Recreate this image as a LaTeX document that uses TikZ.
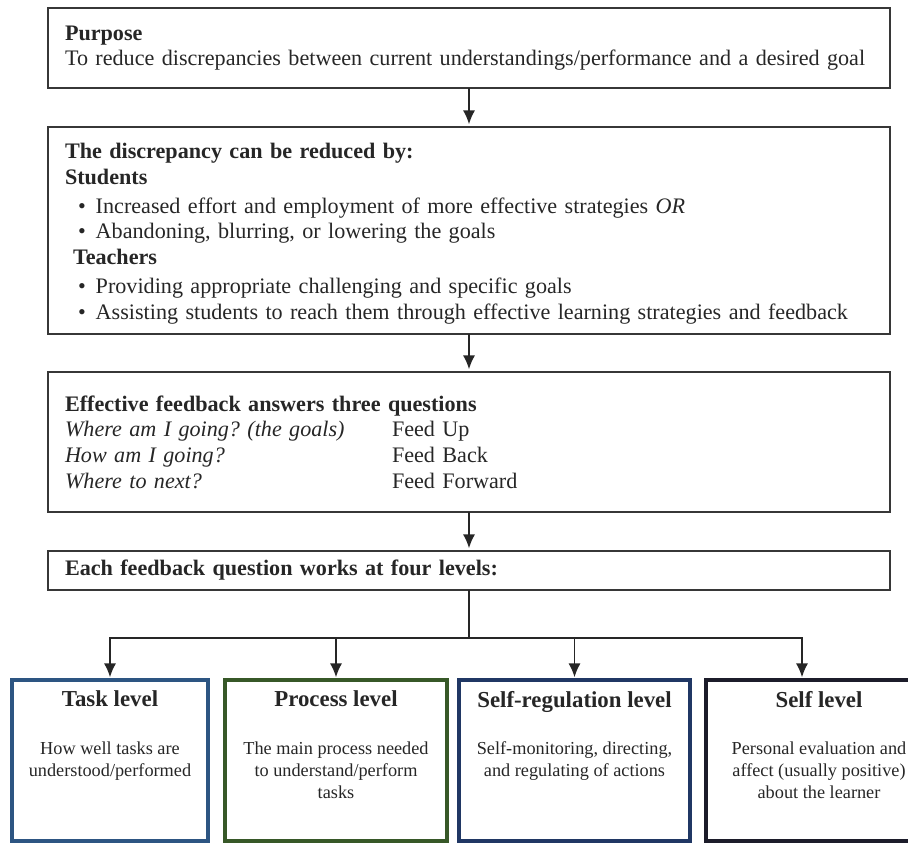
\documentclass[tikz,border=0pt]{standalone}
\usepackage{fontspec}
\setmainfont{Liberation Serif}
\usepackage{xcolor}
\usepackage{tikz}
\usetikzlibrary{shapes.geometric, arrows.meta, positioning}

\definecolor{boxgray}{RGB}{55,55,55}
\definecolor{taskblue}{RGB}{45,85,130}
\definecolor{procgreen}{RGB}{55,88,40}
\definecolor{regnavy}{RGB}{32,55,100}
\definecolor{selfdark}{RGB}{28,28,42}
\frenchspacing

\begin{document}
\begin{tikzpicture}[
    node distance=0.78cm,
    mainbox/.style={rectangle, draw=boxgray, line width=1.3pt, outer sep=0pt, text width=16.16cm, inner xsep=0.34cm, inner ysep=0pt, align=left, font=\fontsize{12.6}{14.6}\selectfont, text=black!85},
    levelbox/.style={rectangle, draw, inner sep=0pt, outer sep=0pt, minimum height=3.22cm, text=black!85},
    arrow/.style={line width=1.1pt, draw=black!85, -{Latex[length=8pt,width=7pt]}, shorten >=1.5pt},
    line/.style={line width=1.1pt, draw=black!85}
]
    \useasboundingbox (0,0) rectangle (18.16,-16.86);
    \clip (0,0) rectangle (18.16,-16.86);

    % Nodes
    \node [mainbox, anchor=north west, minimum height=1.6cm] (purpose) at (0.96,-0.16)
        {\textbf{Purpose}\\
         To reduce discrepancies between current understandings/performance and a desired goal};
    \node [mainbox, below=of purpose, minimum height=4.14cm] (reduce)
        {\textbf{The discrepancy can be reduced by:}\\
         \textbf{Students}\\[2pt]
         \hspace*{0.26cm}\textbullet\hspace{0.2cm}Increased effort and employment of more effective strategies \textit{OR}\\
         \hspace*{0.26cm}\textbullet\hspace{0.2cm}Abandoning, blurring, or lowering the goals\\
         \hspace*{0.16cm}\textbf{Teachers}\\[2pt]
         \hspace*{0.26cm}\textbullet\hspace{0.2cm}Providing appropriate challenging and specific goals\\
         \hspace*{0.26cm}\textbullet\hspace{0.2cm}Assisting students to reach them through effective learning strategies and feedback\par
         \vspace*{-3.5pt}};
    \node [mainbox, below=0.76cm of reduce, minimum height=2.8cm] (questions)
        {\textbf{Effective feedback answers three questions}\\
         \makebox[6.54cm][l]{\textit{Where am I going? (the goals)}}Feed Up\\
         \makebox[6.54cm][l]{\textit{How am I going?}}Feed Back\\
         \makebox[6.54cm][l]{\textit{Where to next?}}Feed Forward};
    \node [mainbox, below=of questions, minimum height=0.78cm] (levels)
        {\textbf{Each feedback question works at four levels:}};

    % Level boxes
    \node [levelbox, draw=taskblue, line width=2.2pt, minimum width=3.92cm, anchor=north west] (task)
        at ([xshift=-0.72cm, yshift=-1.8cm]levels.south west)
        {\parbox[t][2.78cm][t]{3.8cm}{\centering
         {\fontsize{13}{15}\selectfont\bfseries Task level\par}\vspace{0.5cm}
         {\fontsize{10.4}{12.6}\selectfont How well tasks are\\ understood/performed\par}}};
    \node [levelbox, draw=procgreen, line width=2.2pt, minimum width=4.44cm, right=0.34cm of task] (process)
        {\parbox[t][2.78cm][t]{4.3cm}{\centering
         {\fontsize{13}{15}\selectfont\bfseries Process level\par}\vspace{0.5cm}
         {\fontsize{10.4}{12.6}\selectfont The main process needed\\ to understand/perform\\ tasks\par}}};
    \node [levelbox, draw=regnavy, line width=2.2pt, minimum width=4.62cm, right=0.24cm of process] (selfreg)
        {\parbox[t][2.78cm][t]{4.5cm}{\centering
         {\fontsize{13}{15}\selectfont\bfseries Self-regulation level\par}\vspace{0.5cm}
         {\fontsize{10.4}{12.6}\selectfont Self-monitoring, directing,\\ and regulating of actions\par}}};
    \node [levelbox, draw=selfdark, line width=2.8pt, minimum width=4.52cm, right=0.32cm of selfreg] (self)
        {\parbox[t][2.78cm][t]{4.4cm}{\centering
         {\fontsize{13}{15}\selectfont\bfseries Self level\par}\vspace{0.5cm}
         {\fontsize{10.4}{12.6}\selectfont Personal evaluation and\\ affect (usually positive)\\ about the learner\par}}};

    % Arrows
    \draw [arrow] (purpose) -- (reduce);
    \draw [arrow] (reduce) -- (questions);
    \draw [arrow] (questions) -- (levels);
    \coordinate [below=0.96cm of levels.south] (split);
    \draw [line] (levels.south) -- (split);
    \draw [arrow] (split) -| (task.north);
    \draw [arrow] (split) -| (process.north);
    \draw [arrow] (split) -| (selfreg.north);
    \draw [arrow] (split) -| ([xshift=-0.34cm]self.north);

\end{tikzpicture}
\end{document}
